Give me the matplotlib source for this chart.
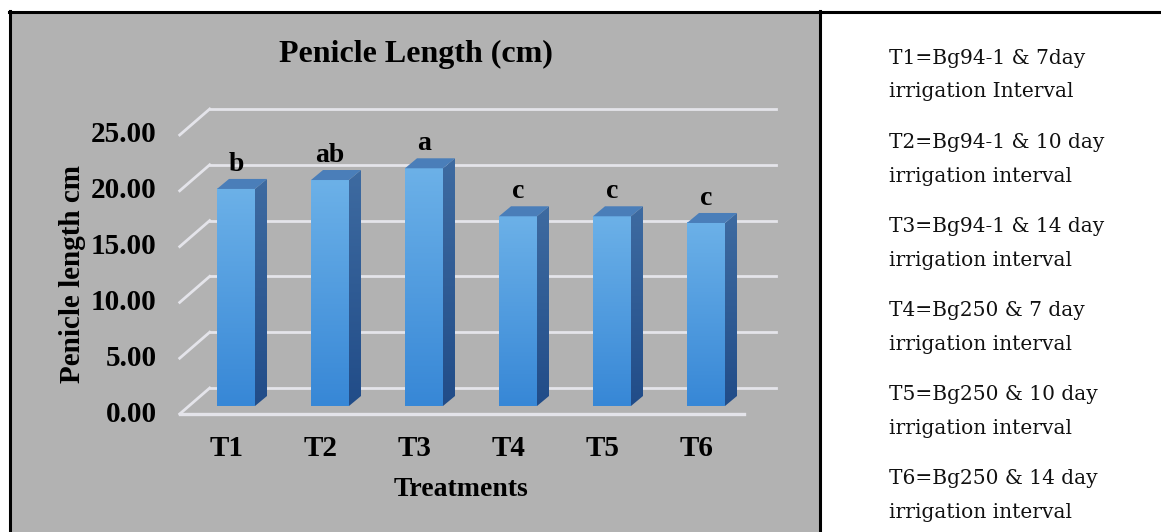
import numpy as np
import matplotlib
matplotlib.use("Agg")
import matplotlib.pyplot as plt
from matplotlib import transforms
from matplotlib.patches import Polygon, Rectangle
from matplotlib.lines import Line2D
from matplotlib.colors import LinearSegmentedColormap

# penicle length per treatment (cm) and the mean separation letters
treatments = ["T1", "T2", "T3", "T4", "T5", "T6"]
penicle_length = [19.45, 20.25, 21.30, 17.00, 17.00, 16.40]
letters = ["b", "ab", "a", "c", "c", "c"]
yticks = [0, 5, 10, 15, 20, 25]

legend_lines = [
    ("T1=Bg94-1 & 7day", "irrigation Interval"),
    ("T2=Bg94-1 & 10 day", "irrigation interval"),
    ("T3=Bg94-1 & 14 day", "irrigation interval"),
    ("T4=Bg250 & 7 day", "irrigation interval"),
    ("T5=Bg250 & 10 day", "irrigation interval"),
    ("T6=Bg250 & 14 day", "irrigation interval"),
]

W, H = 1161, 532
fig = plt.figure(figsize=(W / 100, H / 100), dpi=100)
fig.patch.set_facecolor("white")

# grey chart panel and the table borders around it
fig.patches.append(Rectangle((10 / W, 0), 810 / W, 520 / H, transform=fig.transFigure,
                             facecolor="#b2b2b2", edgecolor="none", zorder=-5))
for xs, ys in [((9 / W, 1), (520 / H, 520 / H)),
               ((10 / W, 10 / W), (0, 521 / H)),
               ((820 / W, 820 / W), (0, 521 / H))]:
    fig.lines.append(Line2D(xs, ys, transform=fig.transFigure, color="black", lw=2.2))

serif_bold = dict(family="Liberation Serif", weight="bold", color="black")

# axes = front plane of the bars
ax = fig.add_axes([189 / W, 126 / H, 564 / W, 279 / H])
ax.set_zorder(2)
ax.set_xlim(-0.5, 5.5)
ax.set_ylim(0, 25)
ax.axis("off")
ax.patch.set_alpha(0)

# depth offsets in pixels (back wall / front floor relative to bar face)
back = transforms.offset_copy(ax.transData, fig, x=20.7, y=18, units="dots")
front = transforms.offset_copy(ax.transData, fig, x=-9.3, y=-8, units="dots")
grid_col = "#e4e4ea"

for v in yticks:
    # back wall line
    ax.plot([-0.5, 5.52], [v, v], color=grid_col, lw=2, transform=back, clip_on=False, zorder=1)
    # side wall diagonal, made of the front-left and back-left corners
    p0 = front.transform((-0.5, v))
    p1 = back.transform((-0.5, v))
    fig.lines.append(Line2D([p0[0] / W, p1[0] / W], [p0[1] / H, p1[1] / H],
                            transform=fig.transFigure, color=grid_col, lw=2, zorder=1))
    ax.text(-0.5, v, f"{v:.2f}", transform=transforms.offset_copy(front, fig, x=-23, y=0, units="dots"),
            ha="right", va="center", fontsize=21, **serif_bold)

# floor front edge
ax.plot([-0.5, 5.5], [0, 0], color=grid_col, lw=2.4, transform=front, clip_on=False, zorder=1)

# bar faces
px = ax.transData.transform((1, 1)) - ax.transData.transform((0, 0))
ddx, ddy = 12 / px[0], 10 / px[1]
bw = 38 / px[0]
grad = np.linspace(0, 1, 256).reshape(-1, 1)
front_cmap = LinearSegmentedColormap.from_list("front", ["#3787d6", "#6cb1e8"])
side_cmap = LinearSegmentedColormap.from_list("side", ["#214c88", "#3e6ba1"])

for i, v in enumerate(penicle_length):
    x0, x1 = i - bw / 2, i + bw / 2
    ax.imshow(grad, extent=(x0, x1, 0, v), origin="lower", cmap=front_cmap,
              aspect="auto", zorder=3, interpolation="bilinear")
    side = Polygon([(x1, 0), (x1 + ddx, ddy), (x1 + ddx, v + ddy), (x1, v)],
                   closed=True, facecolor="none", edgecolor="none")
    ax.add_patch(side)
    im = ax.imshow(grad, extent=(x1, x1 + ddx, 0, v + ddy), origin="lower", cmap=side_cmap,
                   aspect="auto", zorder=3, interpolation="bilinear")
    im.set_clip_path(side)
    ax.add_patch(Polygon([(x0, v), (x1, v), (x1 + ddx, v + ddy), (x0 + ddx, v + ddy)],
                         closed=True, facecolor="#4a7eb9", edgecolor="none", zorder=3))
    ax.text(i, v + ddy + 0.7, letters[i], ha="center", va="baseline",
            fontsize=20, **serif_bold, zorder=4)
    ax.text(i, 0, treatments[i], transform=transforms.offset_copy(front, fig, x=0, y=-34, units="dots"),
            ha="center", va="center", fontsize=21, **serif_bold)

ax.set_xlim(-0.5, 5.5)
ax.set_ylim(0, 25)

fig.text(416 / W, 1 - 54 / H, "Penicle Length (cm)", ha="center", va="center", fontsize=23, **serif_bold)
fig.text(461 / W, 1 - 489 / H, "Treatments", ha="center", va="center", fontsize=20, **serif_bold)
fig.text(73 / W, 1 - 274 / H, "Penicle length cm", ha="center", va="center", rotation=90,
         fontsize=21, **serif_bold)

# treatment key on the right
for k, (l1, l2) in enumerate(legend_lines):
    y = 58 + 84 * k
    fig.text(889 / W, 1 - y / H, l1, ha="left", va="center", fontsize=14.5,
             family="DejaVu Serif", color="#111111")
    fig.text(889 / W, 1 - (y + 34) / H, l2, ha="left", va="center", fontsize=14.5,
             family="DejaVu Serif", color="#111111")

fig.savefig("out.png", dpi=100)
